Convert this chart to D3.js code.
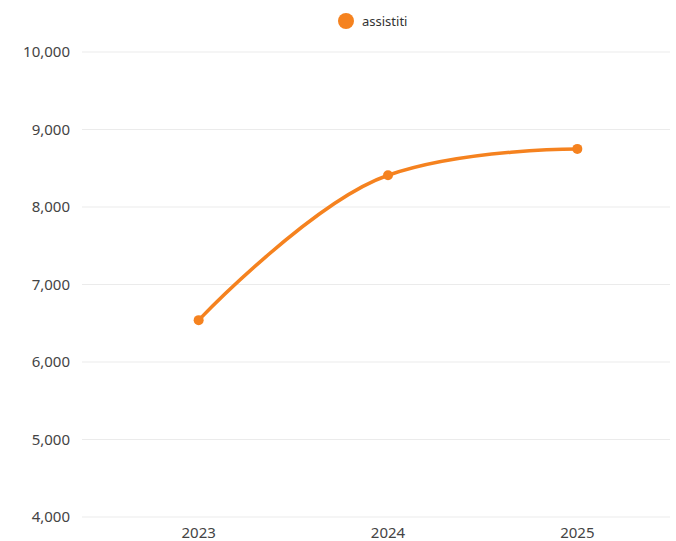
<!DOCTYPE html>
<html><head><meta charset="utf-8">
<script src="https://cdn.jsdelivr.net/npm/d3@7"></script>
<style>body{margin:0;background:#fff;}svg{display:block;font-family:"Noto Sans",sans-serif;}</style>
</head><body>
<svg id="c" width="676" height="541"></svg>
<script>
const years = ["2023","2024","2025"];
const assistiti = [6540, 8410, 8750];
const yTicks = [4000,5000,6000,7000,8000,9000,10000];
const seriesName = "assistiti";
const color = "#f5821f";

// spline curve (smoothing 1.5) for d3.line
function curveSpline(context) {
  let pts = [];
  return {
    areaStart(){}, areaEnd(){},
    lineStart(){ pts = []; },
    point(x, y){ pts.push([+x, +y]); },
    lineEnd(){
      const n = pts.length, s = 1.5, den = s + 1;
      if (!n) return;
      const cont = pts.map((p, i) => {
        if (i === 0 || i === n - 1) return null;
        const [lx0, ly0] = pts[i-1], [nx, ny] = pts[i+1], [px, py] = p;
        let lcx = (s*px + lx0)/den, lcy = (s*py + ly0)/den;
        let rcx = (s*px + nx)/den, rcy = (s*py + ny)/den;
        const corr = ((rcy - lcy) * (rcx - px)) / (rcx - lcx) + py - rcy;
        lcy += corr; rcy += corr;
        if (lcy > ly0 && lcy > py) { lcy = Math.max(ly0, py); rcy = 2*py - lcy; }
        else if (lcy < ly0 && lcy < py) { lcy = Math.min(ly0, py); rcy = 2*py - lcy; }
        if (rcy > ny && rcy > py) { rcy = Math.max(ny, py); lcy = 2*py - rcy; }
        else if (rcy < ny && rcy < py) { rcy = Math.min(ny, py); lcy = 2*py - rcy; }
        return {lcx, lcy, rcx, rcy};
      });
      context.moveTo(pts[0][0], pts[0][1]);
      for (let i = 1; i < n; i++) {
        const a = cont[i-1], b = cont[i];
        context.bezierCurveTo(
          a ? a.rcx : pts[i-1][0], a ? a.rcy : pts[i-1][1],
          b ? b.lcx : pts[i][0], b ? b.lcy : pts[i][1],
          pts[i][0], pts[i][1]);
      }
    }
  };
}

const svg = d3.select("#c");
const x = d3.scalePoint().domain(years).range([104, 672]).padding(0.5);
const y = d3.scaleLinear().domain([4000,10000]).range([517, 52]);

const gridL = 82, gridR = 670;
svg.append("g").selectAll("line").data(yTicks).join("line")
  .attr("x1", gridL).attr("x2", gridR)
  .attr("y1", d=>y(d)).attr("y2", d=>y(d))
  .attr("stroke", "#ebebeb").attr("stroke-width", 1);

const fmt = d3.format(",");
svg.append("g").selectAll("text").data(yTicks).join("text")
  .attr("x", 70).attr("y", d=>y(d)).attr("dy","0.35em")
  .attr("text-anchor","end").attr("font-size",15).attr("fill","#444")
  .text(d=>fmt(d));

svg.append("g").selectAll("text").data(years).join("text")
  .attr("x", d=>x(d)).attr("y", 533).attr("dy","0.35em")
  .attr("text-anchor","middle").attr("font-size",15).attr("fill","#444")
  .text(d=>d);

const data = years.map((d,i)=>({year:d, v:assistiti[i]}));
const line = d3.line().x(d=>x(d.year)).y(d=>y(d.v)).curve(curveSpline);
svg.append("path").datum(data).attr("d", line)
  .attr("fill","none").attr("stroke",color).attr("stroke-width",3.5).attr("stroke-linecap","round");
svg.append("g").selectAll("circle").data(data).join("circle")
  .attr("cx", d=>x(d.year)).attr("cy", d=>y(d.v)).attr("r",5).attr("fill",color);

svg.append("circle").attr("cx",346).attr("cy",21).attr("r",8).attr("fill",color);
svg.append("text").attr("x",362).attr("y",21).attr("dy","0.35em")
  .attr("font-size",13).attr("fill","#333").text(seriesName);
</script>
</body></html>
